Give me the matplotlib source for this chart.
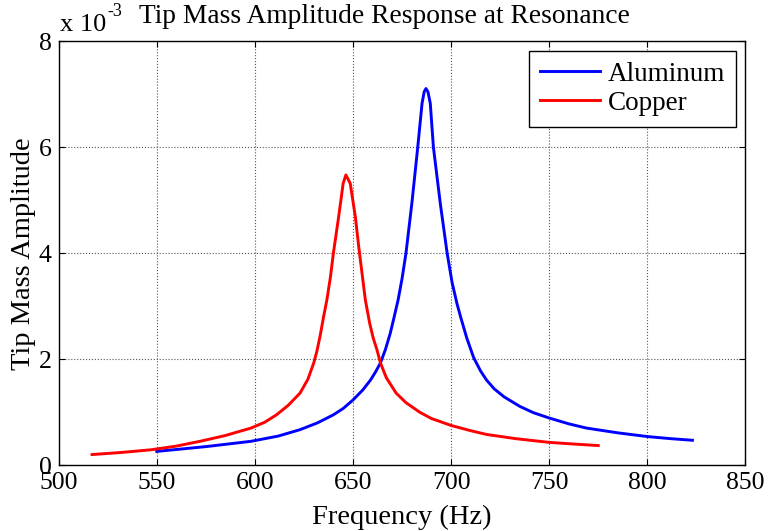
import numpy as np
import matplotlib
matplotlib.use('Agg')
import matplotlib.pyplot as plt

# Values (amplitude in units of 1e-3)
al_freq = [550, 575, 598, 612, 623, 632, 640, 645, 650, 655, 659, 661.5, 664, 666.5,
           669, 671, 673, 675, 677, 680, 683, 685.2, 686.3, 687.2, 688.2, 689.4, 691,
           694.5, 698, 700.5, 703, 705, 708, 711.5, 715, 718, 722, 727, 735, 742,
           750, 760, 769, 785, 800, 812, 823]
al_amp = [0.26, 0.35, 0.45, 0.55, 0.67, 0.80, 0.95, 1.07, 1.23, 1.42, 1.61, 1.76, 1.93, 2.18,
          2.49, 2.80, 3.12, 3.52, 4.0, 4.94, 6.0, 6.83, 7.05, 7.11, 7.05, 6.83, 6.0,
          4.94, 4.0, 3.45, 3.05, 2.78, 2.40, 2.03, 1.78, 1.61, 1.44, 1.29, 1.11, 0.99,
          0.89, 0.78, 0.70, 0.61, 0.54, 0.50, 0.47]

cu_freq = [517, 532, 547, 560, 572, 585, 598, 605, 611, 617, 623, 627, 630, 631.6,
           633.3, 635, 636.7, 638.5, 640, 642.7, 645, 646.4, 648.6, 651.2, 653, 656.3,
           658.5, 660.3, 662.2, 664, 667, 672, 677, 684, 690, 700, 709, 718, 733, 750,
           762, 775]
cu_amp = [0.20, 0.24, 0.29, 0.36, 0.45, 0.56, 0.70, 0.81, 0.95, 1.13, 1.36, 1.62, 1.93, 2.15,
          2.45, 2.80, 3.12, 3.55, 4.0, 4.69, 5.32, 5.48, 5.32, 4.69, 4.1, 3.12,
          2.68, 2.40, 2.18, 1.93, 1.65, 1.36, 1.18, 1.0, 0.88, 0.75, 0.66, 0.58, 0.50, 0.43,
          0.40, 0.37]

x_ticks = [500, 550, 600, 650, 700, 750, 800, 850]
y_ticks = [0, 2, 4, 6, 8]

plt.rcParams['font.family'] = ['Liberation Serif', 'DejaVu Serif']

fig = plt.figure(figsize=(7.69, 5.31), dpi=100)
ax = fig.add_axes([0.0763, 0.124, 0.893, 0.798])

ax.plot(al_freq, al_amp, color='#0000ff', linewidth=2.1, label='Aluminum')
ax.plot(cu_freq, cu_amp, color='#ff0000', linewidth=2.1, label='Copper')

ax.set_xlim(500, 850)
ax.set_ylim(0, 8)
ax.set_xticks(x_ticks)
ax.set_yticks(y_ticks)
ax.grid(True, color='#555555', linestyle=':', linewidth=0.8)
ax.tick_params(direction='in', length=4, top=True, right=True, labelsize=18.5, pad=5)
for s in ax.spines.values():
    s.set_linewidth(1.0)

ax.set_xlabel('Frequency (Hz)', fontsize=20.5, labelpad=8)
ax.set_ylabel('Tip Mass Amplitude', fontsize=20.5, labelpad=2)
fig.text(0.5, 0.968, 'Tip Mass Amplitude Response at Resonance', fontsize=19.8,
         ha='center', va='center')
fig.text(0.078, 0.952, 'x 10', fontsize=19, ha='left', va='center')
fig.text(0.140, 0.978, '-3', fontsize=13, ha='left', va='center')

leg = ax.legend(loc='upper right', fontsize=19.5, fancybox=False, framealpha=1,
                edgecolor='black', borderpad=0.4, handlelength=2.2,
                handletextpad=0.3, labelspacing=0.15, borderaxespad=0.35)
leg.get_frame().set_linewidth(1.0)

fig.savefig('out.png', dpi=100)
